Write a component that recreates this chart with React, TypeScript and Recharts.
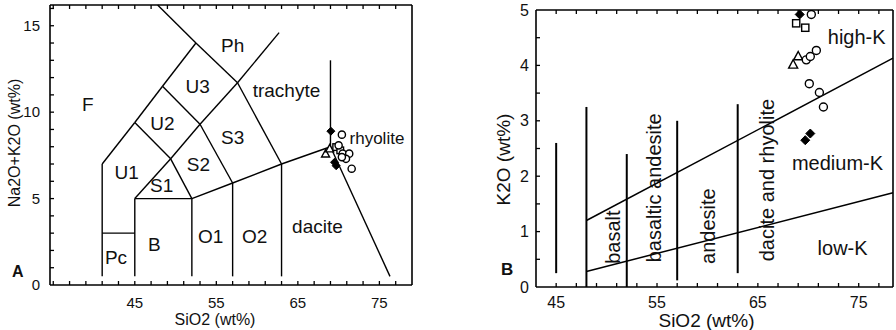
import React from 'react';
import { ComposedChart, XAxis, YAxis, Scatter, ReferenceLine, ReferenceDot } from 'recharts';

type P = [number, number];

const FONT = '"Liberation Sans", Arial, Helvetica, sans-serif';
const INK = '#111';

// ---------- Panel A : TAS diagram ----------
const tasXDomain: P = [34.6, 79];
const tasYDomain: P = [0, 16.2];
const tasXTicks = [45, 55, 65, 75];
const tasYTicks = [0, 5, 10, 15];
const tasXMinor = [35, 37, 39, 41, 43, 45, 47, 49, 51, 53, 55, 57, 59, 61, 63, 65, 67, 69, 71, 73, 75, 77];
const tasYMinor = [1, 2, 3, 4, 5, 6, 7, 8, 9, 10, 11, 12, 13, 14, 15, 16];

const tasBoundaries: P[][] = [
  [[41, 0.5], [41, 7], [45, 9.4], [48.4, 11.5], [52.5, 14]],
  [[47.8, 16.2], [52.5, 14], [57.6, 11.7], [63, 7], [63, 0.5]],
  [[41, 3], [45, 3]],
  [[45, 0.5], [45, 5], [52, 5], [52, 0.5]],
  [[45, 5], [49.4, 7.3], [53, 9.3], [57.6, 11.7], [62.7, 14.6]],
  [[45, 9.4], [49.4, 7.3], [52, 5]],
  [[48.4, 11.5], [53, 9.3], [57, 5.9], [57, 0.5]],
  [[52, 5], [57, 5.9], [63, 7], [69, 8]],
  [[69, 13], [69, 8], [76.3, 0.5]],
];

const tasLabels = [
  { text: 'F', x: 39.25, y: 10.44, size: 19 },
  { text: 'Ph', x: 57.0, y: 13.85, size: 19 },
  { text: 'U3', x: 52.7, y: 11.48, size: 19 },
  { text: 'trachyte', x: 63.6, y: 11.25, size: 19 },
  { text: 'U2', x: 48.4, y: 9.35, size: 19 },
  { text: 'S3', x: 57.0, y: 8.54, size: 19 },
  { text: 'rhyolite', x: 74.7, y: 8.48, size: 17 },
  { text: 'U1', x: 44.0, y: 6.52, size: 19 },
  { text: 'S2', x: 52.8, y: 6.98, size: 19 },
  { text: 'S1', x: 48.3, y: 5.77, size: 19 },
  { text: 'dacite', x: 67.4, y: 3.4, size: 19 },
  { text: 'O1', x: 54.3, y: 2.83, size: 19 },
  { text: 'O2', x: 59.7, y: 2.83, size: 19 },
  { text: 'B', x: 47.4, y: 2.37, size: 19 },
  { text: 'Pc', x: 42.7, y: 1.62, size: 19 },
];

const tasCircles = [
  { x: 70.4, y: 8.7 }, { x: 70.0, y: 8.08 }, { x: 70.5, y: 7.6 }, { x: 71.3, y: 7.6 },
  { x: 70.9, y: 7.3 }, { x: 70.4, y: 7.4 }, { x: 71.6, y: 6.73 },
];
const tasSquares = [{ x: 69.7, y: 7.98 }, { x: 70.2, y: 7.79 }];
const tasTriangles = [{ x: 68.4, y: 7.6 }, { x: 68.9, y: 7.9 }];
const tasDiamonds = [{ x: 69.05, y: 8.9 }, { x: 69.5, y: 7.1 }, { x: 69.7, y: 6.9 }];

// ---------- Panel B : K2O vs SiO2 ----------
const kXDomain: P = [43, 78.4];
const kYDomain: P = [0, 5];
const kXTicks = [45, 55, 65, 75];
const kYTicks = [0, 1, 2, 3, 4, 5];
const kXMinor = [45, 47, 49, 51, 53, 55, 57, 59, 61, 63, 65, 67, 69, 71, 73, 75, 77];
const kYMinor = [0.5, 1, 1.5, 2, 2.5, 3, 3.5, 4, 4.5];

const kVerticals: P[][] = [
  [[45, 0.25], [45, 2.6]],
  [[48, 0], [48, 3.25]],
  [[52, 0], [52, 2.4]],
  [[57, 0.12], [57, 3.0]],
  [[63, 0.25], [63, 3.3]],
];
const kSeriesBounds: P[][] = [
  [[48, 1.2], [78.4, 4.13]],
  [[48, 0.28], [78.4, 1.7]],
];

const kLabels = [
  { text: 'high-K', x: 74.8, y: 4.51, angle: 0 },
  { text: 'medium-K', x: 72.9, y: 2.24, angle: 0 },
  { text: 'low-K', x: 73.4, y: 0.7, angle: 0 },
  { text: 'basalt', x: 50.6, y: 0.9, angle: -90 },
  { text: 'basaltic andesite', x: 54.7, y: 1.79, angle: -90 },
  { text: 'andesite', x: 60.0, y: 1.1, angle: -90 },
  { text: 'dacite and rhyolite', x: 65.9, y: 1.93, angle: -90 },
];

const kCircles = [
  { x: 70.3, y: 4.92 }, { x: 69.8, y: 4.1 }, { x: 70.2, y: 4.16 }, { x: 70.8, y: 4.27 },
  { x: 70.1, y: 3.67 }, { x: 71.1, y: 3.51 }, { x: 71.5, y: 3.25 },
];
const kSquares = [{ x: 68.8, y: 4.76 }, { x: 69.7, y: 4.68 }];
const kTriangles = [{ x: 68.5, y: 4.02 }, { x: 69.0, y: 4.17 }];
const kDiamonds = [{ x: 69.15, y: 4.92 }, { x: 69.7, y: 2.65 }, { x: 70.2, y: 2.77 }];

// ---------- marker shapes ----------
const openCircle = (r: number) => (p: any) => (
  <circle cx={p.cx} cy={p.cy} r={r} fill="#fff" stroke="#000" strokeWidth={1.4} />
);
const openSquare = (s: number) => (p: any) => (
  <rect x={p.cx - s} y={p.cy - s} width={2 * s} height={2 * s} fill="#fff" stroke="#000" strokeWidth={1.4} />
);
const openTriangle = (s: number) => (p: any) => (
  <polygon
    points={`${p.cx},${p.cy - s} ${p.cx + s},${p.cy + s * 0.85} ${p.cx - s},${p.cy + s * 0.85}`}
    fill="#fff" stroke="#000" strokeWidth={1.4}
  />
);
const filledDiamond = (s: number) => (p: any) => (
  <polygon
    points={`${p.cx},${p.cy - s} ${p.cx + s},${p.cy} ${p.cx},${p.cy + s} ${p.cx - s},${p.cy}`}
    fill="#000" stroke="#000" strokeWidth={1}
  />
);

type Seg = { a: P; b: P };
const segmentsOf = (lines: P[][]): Seg[] => {
  const out: Seg[] = [];
  lines.forEach((pl) => {
    for (let i = 0; i < pl.length - 1; i++) out.push({ a: pl[i], b: pl[i + 1] });
  });
  return out;
};

// small inward tick marks + frame, expressed in data units of the given domains
const frameTicks = (
  xd: P, yd: P, plotW: number, plotH: number, xMinor: number[], yMinor: number[], lenPx: number
): Seg[] => {
  const lx = (lenPx * (xd[1] - xd[0])) / plotW;
  const ly = (lenPx * (yd[1] - yd[0])) / plotH;
  const out: Seg[] = [];
  xMinor.forEach((v) => {
    out.push({ a: [v, yd[0]], b: [v, yd[0] + ly] });
    out.push({ a: [v, yd[1]], b: [v, yd[1] - ly] });
  });
  yMinor.forEach((v) => {
    out.push({ a: [xd[0], v], b: [xd[0] + lx, v] });
  });
  return out;
};

const tickStyle = (size: number) => ({ fontSize: size, fill: INK, fontFamily: FONT });

const renderSegs = (segs: Seg[], key: string, width: number) =>
  segs.map((s, i) => (
    <ReferenceLine
      key={key + i} xAxisId="x" yAxisId="y" ifOverflow="visible"
      segment={[{ x: s.a[0], y: s.a[1] }, { x: s.b[0], y: s.b[1] }]}
      stroke="#000" strokeWidth={width}
    />
  ));

function PanelA() {
  const seg = segmentsOf(tasBoundaries);
  const ticks = frameTicks(tasXDomain, tasYDomain, 362, 280, tasXMinor, tasYMinor, 4);
  return (
    <ComposedChart width={450} height={330} margin={{ top: 5, right: 38, bottom: 0, left: 0 }}>
      <XAxis
        xAxisId="x" dataKey="x" type="number" domain={tasXDomain} allowDataOverflow
        ticks={tasXTicks} interval={0} height={45}
        axisLine={{ stroke: '#000', strokeWidth: 1.6 }} tickLine={false} tickSize={10} tickMargin={2}
        tick={tickStyle(15)}
        label={{ value: 'SiO2 (wt%)', position: 'insideBottom', offset: 5, dx: -16, fontSize: 16, fill: INK, fontFamily: FONT }}
      />
      <YAxis
        yAxisId="y" dataKey="y" type="number" domain={tasYDomain} allowDataOverflow
        ticks={tasYTicks} interval={0} width={50}
        axisLine={{ stroke: '#000', strokeWidth: 1.6 }} tickLine={false} tickSize={8} tickMargin={2}
        tick={tickStyle(15)}
        label={{ value: 'Na2O+K2O (wt%)', angle: -90, position: 'insideLeft', offset: 14, dy: -2, fontSize: 16, fill: INK, fontFamily: FONT, style: { textAnchor: 'middle' } }}
      />
      <ReferenceLine xAxisId="x" yAxisId="y" y={tasYDomain[1]} stroke="#000" strokeWidth={1.6} ifOverflow="visible" />
      <ReferenceLine xAxisId="x" yAxisId="y" x={tasXDomain[1]} stroke="#000" strokeWidth={1.6} ifOverflow="visible" />
      {renderSegs(ticks, 'tt', 1.3)}
      {renderSegs(seg, 'ta', 1.4)}
      {tasLabels.map((l, i) => (
        <ReferenceDot
          key={'tl' + i} xAxisId="x" yAxisId="y" x={l.x} y={l.y} r={0} fill="none" stroke="none" ifOverflow="visible"
          label={{ value: l.text, position: 'center', fontSize: l.size, fill: INK, fontFamily: FONT }}
        />
      ))}
      <Scatter xAxisId="x" yAxisId="y" data={tasTriangles} shape={openTriangle(4)} isAnimationActive={false} />
      <Scatter xAxisId="x" yAxisId="y" data={tasSquares} shape={openSquare(3.3)} isAnimationActive={false} />
      <Scatter xAxisId="x" yAxisId="y" data={tasCircles} shape={openCircle(3.6)} isAnimationActive={false} />
      <Scatter xAxisId="x" yAxisId="y" data={tasDiamonds} shape={filledDiamond(4)} isAnimationActive={false} />
    </ComposedChart>
  );
}

function PanelB() {
  const vseg = segmentsOf(kVerticals);
  const bseg = segmentsOf(kSeriesBounds);
  const ticks = frameTicks(kXDomain, kYDomain, 357, 277, kXMinor, kYMinor, 4);
  return (
    <ComposedChart width={446} height={330} margin={{ top: 10, right: 3, bottom: 0, left: 0 }}>
      <XAxis
        xAxisId="x" dataKey="x" type="number" domain={kXDomain} allowDataOverflow
        ticks={kXTicks} interval={0} height={43}
        axisLine={{ stroke: '#000', strokeWidth: 1.6 }} tickLine={false} tickSize={8} tickMargin={2}
        tick={tickStyle(16)}
        label={{ value: 'SiO2 (wt%)', position: 'insideBottom', offset: 3, dx: -8, fontSize: 19, fill: INK, fontFamily: FONT }}
      />
      <YAxis
        yAxisId="y" dataKey="y" type="number" domain={kYDomain} allowDataOverflow
        ticks={kYTicks} interval={0} width={86}
        axisLine={{ stroke: '#000', strokeWidth: 1.6 }} tickLine={false} tickSize={5} tickMargin={2}
        tick={tickStyle(16)}
        label={{ value: 'K2O (wt%)', angle: -90, position: 'insideLeft', offset: 53, dy: 11, fontSize: 19, fill: INK, fontFamily: FONT, style: { textAnchor: 'middle' } }}
      />
      <ReferenceLine xAxisId="x" yAxisId="y" y={kYDomain[1]} stroke="#000" strokeWidth={1.6} ifOverflow="visible" />
      <ReferenceLine xAxisId="x" yAxisId="y" x={kXDomain[1]} stroke="#000" strokeWidth={1.6} ifOverflow="visible" />
      {renderSegs(ticks, 'kt', 1.3)}
      {renderSegs(vseg, 'kv', 2)}
      {renderSegs(bseg, 'kb', 1.5)}
      {kLabels.map((l, i) => (
        <ReferenceDot
          key={'kl' + i} xAxisId="x" yAxisId="y" x={l.x} y={l.y} r={0} fill="none" stroke="none" ifOverflow="visible"
          label={{ value: l.text, position: 'center', angle: l.angle, fontSize: 20, fill: INK, fontFamily: FONT }}
        />
      ))}
      <Scatter xAxisId="x" yAxisId="y" data={kTriangles} shape={openTriangle(4.5)} isAnimationActive={false} />
      <Scatter xAxisId="x" yAxisId="y" data={kSquares} shape={openSquare(3.6)} isAnimationActive={false} />
      <Scatter xAxisId="x" yAxisId="y" data={kCircles} shape={openCircle(4)} isAnimationActive={false} />
      <Scatter xAxisId="x" yAxisId="y" data={kDiamonds} shape={filledDiamond(4.5)} isAnimationActive={false} />
    </ComposedChart>
  );
}

export default function App() {
  return (
    <div style={{ position: 'absolute', left: 0, top: 0, width: 896, height: 330, background: '#fff', overflow: 'hidden', fontFamily: FONT }}>
      <div style={{ position: 'absolute', left: 0, top: 0 }}>
        <PanelA />
      </div>
      <div style={{ position: 'absolute', left: 450, top: 0 }}>
        <PanelB />
      </div>
      <div style={{ position: 'absolute', left: 12, top: 262, fontSize: 16, fontWeight: 'bold', color: INK, lineHeight: '20px' }}>A</div>
      <div style={{ position: 'absolute', left: 501, top: 260, fontSize: 17, fontWeight: 'bold', color: INK, lineHeight: '20px' }}>B</div>
    </div>
  );
}
